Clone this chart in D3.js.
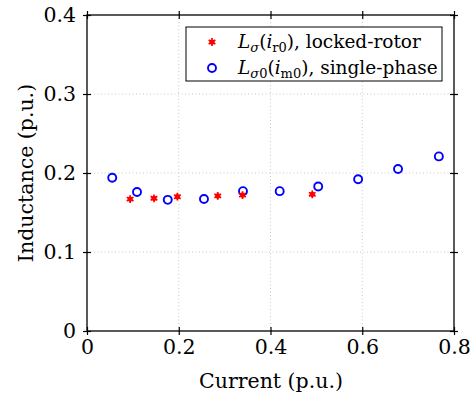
<!DOCTYPE html>
<html><head><meta charset="utf-8">
<script src="https://cdn.jsdelivr.net/npm/d3@7"></script>
<style>body{margin:0;background:#fff}svg text{font-family:"DejaVu Serif",serif !important;fill:#000}</style>
</head><body>
<svg id="c" width="474" height="403"></svg>
<script>
const xTicks = [0, 0.2, 0.4, 0.6, 0.8];
const yTicks = [0, 0.1, 0.2, 0.3, 0.4];
const lockedX = [0.094, 0.146, 0.197, 0.285, 0.339, 0.491];
const lockedY = [0.167, 0.168, 0.170, 0.171, 0.172, 0.173];
const singleX = [0.055, 0.109, 0.176, 0.255, 0.340, 0.420, 0.504, 0.591, 0.678, 0.767];
const singleY = [0.194, 0.176, 0.166, 0.167, 0.177, 0.177, 0.183, 0.192, 0.205, 0.221];

const svg = d3.select("#c");
const L = 87, R = 454, T = 15, B = 331;
const x = d3.scaleLinear().domain([0, 0.8]).range([L, R]);
const y = d3.scaleLinear().domain([0, 0.4]).range([B, T]);
const fmt = d => d === 0 ? "0" : d3.format(".1f")(d);
const fs = 20.5;

// grid
svg.append("g").selectAll("line").data(xTicks.slice(1, -1)).join("line")
  .attr("x1", d => x(d)).attr("x2", d => x(d)).attr("y1", T).attr("y2", B)
  .attr("stroke", "#c8c8c8").attr("stroke-width", 1).attr("stroke-dasharray", "1,2.5");
svg.append("g").selectAll("line").data(yTicks.slice(1, -1)).join("line")
  .attr("y1", d => y(d)).attr("y2", d => y(d)).attr("x1", L).attr("x2", R)
  .attr("stroke", "#c8c8c8").attr("stroke-width", 1).attr("stroke-dasharray", "1,2.5");

// axes
const ax = svg.append("g").attr("transform", `translate(0,${B})`)
  .call(d3.axisBottom(x).tickValues(xTicks).tickFormat(fmt).tickSize(4).tickPadding(4));
const ay = svg.append("g").attr("transform", `translate(${L},0)`)
  .call(d3.axisLeft(y).tickValues(yTicks).tickFormat(fmt).tickSize(4).tickPadding(7));
const axT = svg.append("g").attr("transform", `translate(0,${T})`)
  .call(d3.axisTop(x).tickValues(xTicks).tickFormat("").tickSize(4));
const ayR = svg.append("g").attr("transform", `translate(${R},0)`)
  .call(d3.axisRight(y).tickValues(yTicks).tickFormat("").tickSize(4));
[ax, ay, axT, ayR].forEach(g => {
  g.attr("font-family", null).attr("font-size", null);
  g.select(".domain").remove();
  g.selectAll("line").attr("stroke", "#000").attr("stroke-width", 1.2);
  g.selectAll("text").attr("font-size", fs).attr("fill", "#000");
});
ax.selectAll(".tick line").attr("y1", -4);
ay.selectAll(".tick line").attr("x1", 4);
axT.selectAll(".tick line").attr("y1", 4);
ayR.selectAll(".tick line").attr("x1", -4);

svg.append("rect").attr("x", L).attr("y", T).attr("width", R - L).attr("height", B - T)
  .attr("fill", "none").attr("stroke", "#000").attr("stroke-width", 1.3);

// labels
svg.append("text").attr("x", (L + R) / 2 + 0.5).attr("y", 388).attr("text-anchor", "middle")
  .attr("font-size", fs).text("Current (p.u.)");
svg.append("text").attr("transform", `translate(33,${(T + B) / 2}) rotate(-90)`).attr("text-anchor", "middle")
  .attr("font-size", fs).text("Inductance (p.u.)");

// data
const star = d3.symbol().type(d3.symbolAsterisk).size(42);
const single = singleX.map((v, i) => [v, singleY[i]]);
const locked = lockedX.map((v, i) => [v, lockedY[i]]);
svg.append("g").selectAll("circle").data(single).join("circle")
  .attr("cx", d => x(d[0])).attr("cy", d => y(d[1])).attr("r", 4)
  .attr("fill", "none").attr("stroke", "#0000ff").attr("stroke-width", 1.9);
const drawStar = (g, cx, cy) => {
  g.append("circle").attr("cx", cx).attr("cy", cy).attr("r", 2.6).attr("fill", "#ff0000");
  g.append("path").attr("transform", `translate(${cx},${cy})`).attr("d", star())
    .attr("fill", "none").attr("stroke", "#ff0000").attr("stroke-width", 1.7);
};
const sg = svg.append("g");
locked.forEach(d => drawStar(sg, x(d[0]), y(d[1])));

// legend
svg.append("rect").attr("x", 186).attr("y", 27).attr("width", 256).attr("height", 54)
  .attr("fill", "#fff").attr("stroke", "#000").attr("stroke-width", 1);
drawStar(svg, 212, 42);
svg.append("circle").attr("cx", 212).attr("cy", 68).attr("r", 4)
  .attr("fill", "none").attr("stroke", "#0000ff").attr("stroke-width", 1.9);

const lfs = 18.5, sfs = 13;
{
  const t = svg.append("text").attr("x", 238).attr("y", 48).attr("font-size", lfs);
  t.append("tspan").attr("font-style", "italic").text("L");
  t.append("tspan").attr("font-size", sfs).attr("dy", 4).attr("font-style", "italic").text("σ");
  t.append("tspan").attr("dy", -4).text("(");
  t.append("tspan").attr("font-style", "italic").text("i");
  t.append("tspan").attr("font-size", sfs).attr("dy", 4).text("r0");
  t.append("tspan").attr("dy", -4).text("), locked-rotor");
}
{
  const t = svg.append("text").attr("x", 238).attr("y", 74).attr("font-size", lfs);
  t.append("tspan").attr("font-style", "italic").text("L");
  t.append("tspan").attr("font-size", sfs).attr("dy", 4).attr("font-style", "italic").text("σ");
  t.append("tspan").attr("font-size", sfs).text("0");
  t.append("tspan").attr("dy", -4).text("(");
  t.append("tspan").attr("font-style", "italic").text("i");
  t.append("tspan").attr("font-size", sfs).attr("dy", 4).text("m0");
  t.append("tspan").attr("dy", -4).text("), single-phase");
}
</script>
</body></html>
